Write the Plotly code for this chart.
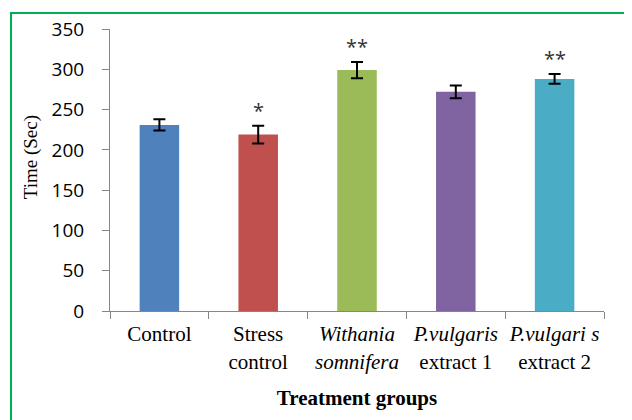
import plotly.graph_objects as go

categories = ["Control", "Stress<br>control", "<i>Withania</i><br><i>somnifera</i>",
              "<i>P.vulgaris</i><br>extract 1", "<i>P.vulgari s</i><br>extract 2"]
means = [231, 219, 299, 272, 288]
errors = [7, 11, 10, 8, 6]
stars = ["", "*", "**", "", "**"]
colors = ["#4F81BD", "#C0504D", "#9BBB59", "#8064A2", "#4BACC6"]
y_ticks = [0, 50, 100, 150, 200, 250, 300, 350]

fig = go.Figure()
fig.add_trace(go.Bar(
    x=categories, y=means,
    marker=dict(color=colors, line=dict(width=0)),
    error_y=dict(type="data", array=errors, visible=True,
                 color="#000000", thickness=2, width=6),
    width=0.4,
))

for c, m, e, s in zip(categories, means, errors, stars):
    if s:
        fig.add_annotation(x=c, y=m + e, text=s, showarrow=False,
                           yanchor="bottom", yshift=0,
                           font=dict(family="Open Sans", size=20, color="#333333"))

# y-axis title
fig.add_annotation(xref="paper", yref="paper", x=-0.16, y=0.545,
                   text="Time (Sec)", textangle=-90, showarrow=False,
                   xanchor="center", yanchor="middle",
                   font=dict(family="Liberation Serif", size=19, color="#000000"))

axis_color = "#868686"
fig.update_layout(
    width=632, height=420,
    margin=dict(l=102, r=36, t=21, b=117, autoexpand=False),
    paper_bgcolor="white", plot_bgcolor="white",
    showlegend=False,
    xaxis=dict(
        automargin=False, tickangle=0,
        showline=True, linecolor=axis_color, linewidth=1,
        ticks="outside", tickson="boundaries", ticklen=7, tickcolor=axis_color,
        ticklabelstandoff=4,
        tickfont=dict(family="Liberation Serif", size=21, color="#000000"),
        title=dict(text="<b>Treatment groups</b>", standoff=17,
                   font=dict(family="Liberation Serif", size=21, color="#000000")),
        showgrid=False, zeroline=False,
    ),
    yaxis=dict(
        automargin=False,
        range=[0, 350], tickvals=y_ticks,
        showline=True, linecolor=axis_color, linewidth=1,
        ticks="outside", ticklen=7, tickcolor=axis_color,
        ticklabelstandoff=14,
        tickfont=dict(family="Open Sans", size=19, color="#000000"),
        showgrid=False, zeroline=False,
    ),
    shapes=[dict(type="rect", xref="paper", yref="paper",
                 x0=-0.2004, x1=1.3, y0=-0.6, y1=1.0567,
                 line=dict(color="#00B050", width=2), fillcolor="rgba(0,0,0,0)",
                 layer="above")],
)

fig.write_html("out.html")
